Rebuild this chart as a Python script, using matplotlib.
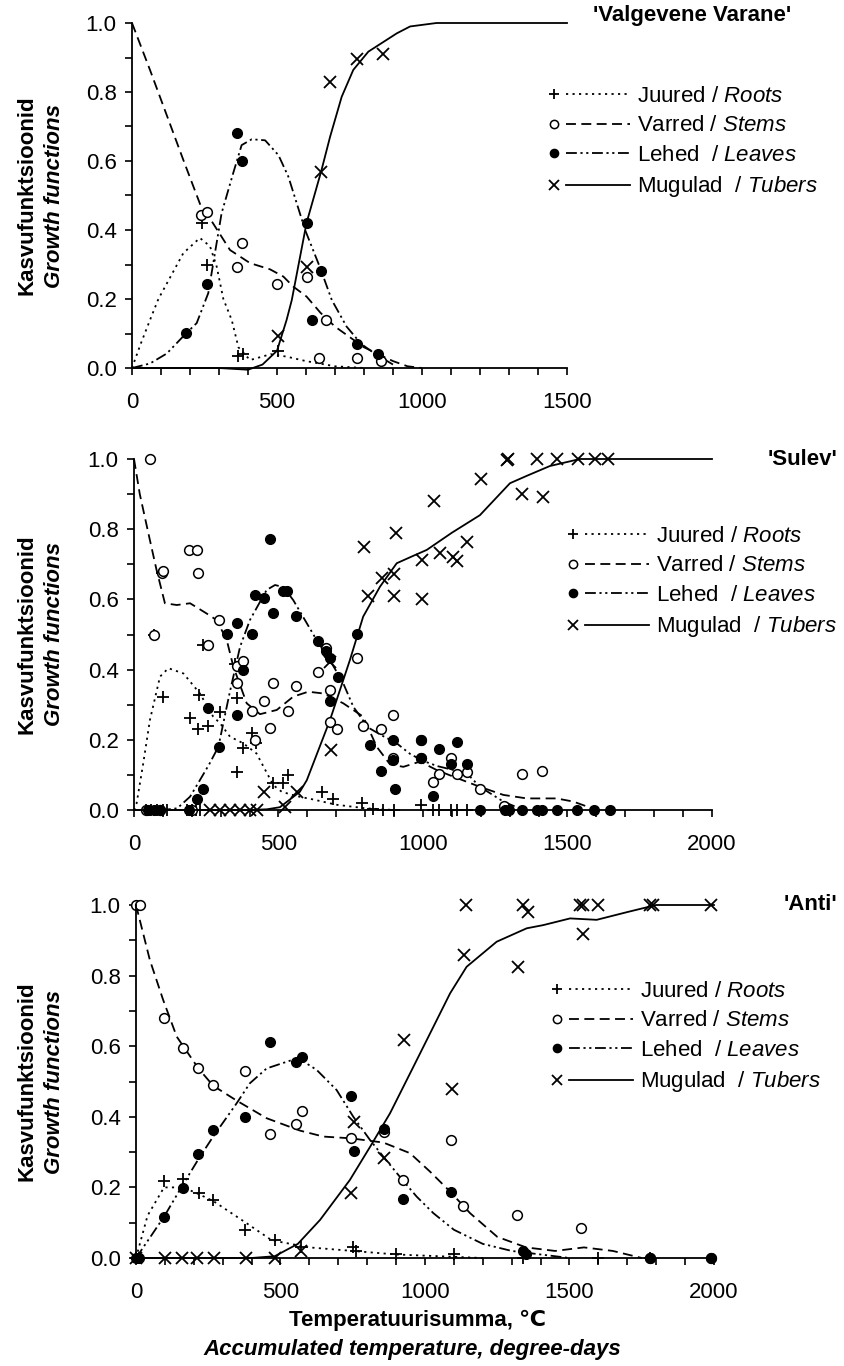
import matplotlib
matplotlib.use("Agg")
import matplotlib.pyplot as plt
from matplotlib.lines import Line2D
from matplotlib.legend_handler import HandlerBase
from matplotlib.ticker import MultipleLocator, FormatStrFormatter

plt.rcParams['font.family'] = ['Liberation Sans', 'DejaVu Sans']
plt.rcParams['mathtext.fontset'] = 'custom'
plt.rcParams['mathtext.rm'] = 'Liberation Sans'
plt.rcParams['mathtext.it'] = 'Liberation Sans:italic'
plt.rcParams['mathtext.bf'] = 'Liberation Sans:bold'

# ---------------- Panel 1: 'Valgevene Varane' ----------------
vv_roots_x = [240, 260, 367, 382, 502]
vv_roots_y = [0.42, 0.30, 0.035, 0.04, 0.05]
vv_stems_x = [237, 257, 361, 380, 499, 602, 645, 670, 777, 860]
vv_stems_y = [0.443, 0.453, 0.294, 0.361, 0.243, 0.263, 0.03, 0.14, 0.03, 0.02]
vv_leaves_x = [186, 260, 361, 380, 602, 620, 651, 777, 850]
vv_leaves_y = [0.102, 0.243, 0.68, 0.60, 0.421, 0.14, 0.282, 0.07, 0.04]
vv_tubers_x = [502, 605, 652, 683, 777, 867]
vv_tubers_y = [0.093, 0.294, 0.569, 0.83, 0.895, 0.91]

vv_roots_fx = [0, 30, 62, 91, 177, 234, 269, 292, 315, 344, 367, 407, 478, 533, 600, 700, 800]
vv_roots_fy = [0, 0.07, 0.139, 0.2, 0.333, 0.377, 0.353, 0.294, 0.2, 0.139, 0.06, 0.023, 0.04, 0.033, 0.02, 0.005, 0]
vv_stems_fx = [0, 62, 177, 237, 257, 338, 407, 476, 522, 556, 602, 650, 700, 750, 800, 850, 900, 950, 1000]
vv_stems_fy = [1.0, 0.864, 0.603, 0.47, 0.449, 0.342, 0.304, 0.286, 0.265, 0.236, 0.207, 0.16, 0.12, 0.09, 0.06, 0.04, 0.02, 0.005, 0]
vv_leaves_fx = [0, 62, 120, 186, 223, 263, 309, 349, 378, 413, 459, 505, 539, 597, 648, 689, 740, 790, 840, 900]
vv_leaves_fy = [0, 0.013, 0.042, 0.1, 0.13, 0.217, 0.449, 0.565, 0.646, 0.663, 0.66, 0.617, 0.555, 0.40, 0.292, 0.197, 0.12, 0.07, 0.04, 0.01]
vv_tubers_fx = [0, 100, 200, 300, 400, 450, 500, 533, 551, 602, 652, 683, 723, 763, 815, 913, 959, 1050, 1500]
vv_tubers_fy = [0, 0, 0, 0, -0.005, 0.01, 0.05, 0.139, 0.197, 0.421, 0.569, 0.67, 0.786, 0.864, 0.917, 0.97, 0.99, 1.0, 1.0]

# ---------------- Panel 2: 'Sulev' ----------------
su_roots_x = [40, 60, 80, 100, 114, 183, 200, 215, 228, 69, 98, 101, 194, 220, 226, 240, 257, 298, 349, 357,
              357, 376, 409, 422, 482, 517, 534, 650, 690, 790, 828, 863, 900, 993, 1036, 1055, 1097, 1117, 1151]
su_roots_y = [0, 0, 0, 0, 0, 0, 0, 0, 0, 0.50, 0.674, 0.323, 0.263, 0.232, 0.328, 0.47, 0.238, 0.28, 0.415, 0.32,
              0.109, 0.177, 0.218, 0.192, 0.078, 0.078, 0.101, 0.05, 0.03, 0.02, 0.003, 0, 0, 0.015, 0, 0, 0, 0, 0]
su_stems_x = [55, 69, 98, 101, 191, 217, 223, 255, 294, 357, 376, 357, 480, 561, 450, 409, 532, 471, 418, 664,
              636, 678, 773, 678, 704, 794, 855, 897, 993, 897, 993, 1097, 1055, 1119, 1151, 1036, 1197, 1281,
              1341, 1413, 40, 90, 200]
su_stems_y = [1.0, 0.50, 0.674, 0.68, 0.741, 0.741, 0.674, 0.47, 0.541, 0.41, 0.425, 0.361, 0.361, 0.353, 0.311,
              0.283, 0.282, 0.233, 0.2, 0.462, 0.392, 0.342, 0.432, 0.252, 0.232, 0.239, 0.231, 0.271, 0.20,
              0.149, 0.149, 0.149, 0.103, 0.103, 0.109, 0.079, 0.06, 0.012, 0.103, 0.11, 0, 0, 0]
su_leaves_x = [471, 419, 451, 517, 531, 480, 561, 355, 323, 407, 636, 664, 678, 705, 773, 376, 678, 257, 355, 294,
               817, 855, 897, 897, 903, 993, 993, 1055, 1117, 1097, 1151, 1036, 238, 217, 50, 70, 90, 190,
               1197, 1284, 1299, 1341, 1393, 1411, 1465, 1534, 1593, 1647]
su_leaves_y = [0.772, 0.613, 0.603, 0.624, 0.624, 0.560, 0.553, 0.534, 0.501, 0.501, 0.482, 0.453, 0.432, 0.38,
               0.501, 0.40, 0.311, 0.292, 0.271, 0.18, 0.185, 0.111, 0.199, 0.143, 0.06, 0.20, 0.149, 0.173, 0.193,
               0.131, 0.131, 0.04, 0.06, 0.031, 0, 0, 0, 0, 0, 0, 0, 0, 0, 0, 0, 0, 0, 0]
su_tubers_x = [1290, 1295, 1393, 1465, 1537, 1595, 1640, 1200, 1038, 1341, 1414, 905, 796, 1153, 995, 1059, 1103,
               1119, 857, 901, 811, 901, 995, 678, 682, 263, 298, 332, 367, 401, 426, 451, 522, 563]
su_tubers_y = [0.997, 1.0, 1.0, 1.0, 1.0, 1.0, 1.0, 0.942, 0.880, 0.900, 0.891, 0.790, 0.750, 0.763, 0.712, 0.731,
               0.72, 0.71, 0.660, 0.672, 0.610, 0.610, 0.601, 0.421, 0.171, 0, 0, 0, 0, 0, 0, 0.052, 0.008, 0.052]

su_roots_fx = [0, 9, 32, 55, 90, 119, 171, 228, 274, 298, 332, 378, 424, 482, 511, 560, 620, 700, 800, 900]
su_roots_fy = [0, 0.019, 0.133, 0.256, 0.38, 0.404, 0.389, 0.332, 0.266, 0.247, 0.209, 0.19, 0.161, 0.071, 0.052,
               0.04, 0.03, 0.015, 0.005, 0]
su_stems_fx = [0, 20, 55, 78, 107, 148, 194, 251, 286, 321, 344, 390, 436, 494, 551, 603, 655, 724, 793, 840, 886,
               932, 990, 1047, 1105, 1197, 1278, 1359, 1462, 1520, 1601]
su_stems_fy = [1.0, 0.9, 0.769, 0.684, 0.589, 0.584, 0.589, 0.56, 0.541, 0.484, 0.408, 0.304, 0.273, 0.285, 0.323,
               0.337, 0.332, 0.304, 0.266, 0.18, 0.13, 0.123, 0.138, 0.114, 0.095, 0.066, 0.043, 0.033, 0.033,
               0.024, 0.0]
su_leaves_fx = [0, 100, 150, 194, 228, 260, 292, 330, 367, 401, 459, 488, 517, 551, 598, 632, 678, 724, 759, 810,
                863, 909, 955, 1000, 1050, 1100, 1151, 1197, 1278, 1347]
su_leaves_fy = [0, 0, 0.005, 0.038, 0.085, 0.13, 0.18, 0.33, 0.465, 0.541, 0.627, 0.641, 0.635, 0.598, 0.532, 0.484,
                0.427, 0.361, 0.294, 0.235, 0.21, 0.19, 0.16, 0.14, 0.125, 0.115, 0.105, 0.066, 0.024, 0]
su_tubers_fx = [0, 200, 400, 460, 505, 574, 598, 678, 747, 793, 851, 909, 966, 1013, 1100, 1197, 1301, 1359, 1439,
                1543, 2000]
su_tubers_fy = [0, 0, 0, 0.002, 0.008, 0.052, 0.085, 0.256, 0.427, 0.551, 0.636, 0.703, 0.724, 0.741, 0.79, 0.840,
                0.931, 0.952, 0.98, 1.0, 1.0]

# ---------------- Panel 3: 'Anti' ----------------
an_roots_x = [0, 10, 97, 164, 219, 267, 377, 480, 570, 750, 760, 900, 1100, 1340, 1600, 1780]
an_roots_y = [0, 0, 0.219, 0.224, 0.185, 0.164, 0.08, 0.05, 0.03, 0.03, 0.02, 0.01, 0.01, 0.0, 0.0, 0.0]
an_stems_x = [0, 15, 97, 164, 216, 267, 377, 464, 554, 573, 744, 859, 925, 1090, 1133, 1317, 1540, 1780, 1990]
an_stems_y = [1.0, 1.0, 0.679, 0.596, 0.537, 0.49, 0.530, 0.351, 0.381, 0.417, 0.339, 0.358, 0.221, 0.334, 0.148,
              0.122, 0.085, 0.0, 0.0]
an_leaves_x = [0, 10, 97, 164, 216, 267, 377, 464, 554, 573, 744, 754, 859, 925, 1090, 1340, 1350, 1780, 1990]
an_leaves_y = [0, 0, 0.117, 0.197, 0.295, 0.363, 0.40, 0.611, 0.556, 0.568, 0.459, 0.304, 0.365, 0.167, 0.186,
               0.02, 0.01, 0.0, 0.0]
an_tubers_x = [0, 100, 160, 210, 270, 380, 480, 570, 744, 754, 859, 927, 1092, 1135, 1141, 1321, 1340, 1355, 1536,
               1548, 1548, 1600, 1780, 1790, 1990]
an_tubers_y = [0, 0, 0, 0, 0, 0, 0, 0.02, 0.185, 0.386, 0.284, 0.618, 0.478, 0.858, 1.0, 0.823, 1.0, 0.979, 1.0,
               1.0, 0.918, 1.0, 1.0, 1.0, 1.0]

an_roots_fx = [0, 40, 97, 164, 220, 270, 380, 470, 600, 750, 900, 1200]
an_roots_fy = [0, 0.12, 0.2, 0.2, 0.18, 0.16, 0.1, 0.05, 0.03, 0.02, 0.01, 0]
an_stems_fx = [0, 48, 94, 141, 216, 267, 348, 452, 567, 648, 744, 856, 948, 1017, 1087, 1156, 1250, 1350, 1450,
               1550, 1650, 1750]
an_stems_fy = [1.0, 0.844, 0.731, 0.627, 0.537, 0.488, 0.446, 0.396, 0.361, 0.344, 0.339, 0.327, 0.297, 0.245,
               0.188, 0.127, 0.06, 0.03, 0.02, 0.03, 0.02, 0.0]
an_leaves_fx = [0, 50, 97, 164, 216, 267, 348, 394, 452, 533, 573, 625, 694, 752, 810, 856, 913, 971, 1029, 1100,
                1200, 1300, 1400, 1500]
an_leaves_fy = [0, 0.06, 0.117, 0.21, 0.28, 0.344, 0.438, 0.495, 0.537, 0.559, 0.56, 0.533, 0.476, 0.40, 0.334,
                0.287, 0.23, 0.174, 0.127, 0.08, 0.04, 0.02, 0.01, 0]
an_tubers_fx = [0, 200, 400, 480, 560, 637, 740, 810, 879, 960, 1029, 1087, 1144, 1248, 1352, 1409, 1502, 1594,
                1700, 1800, 2000]
an_tubers_fy = [0, 0, 0, 0.005, 0.04, 0.108, 0.221, 0.315, 0.41, 0.542, 0.655, 0.75, 0.825, 0.896, 0.934, 0.943,
                0.962, 0.958, 0.98, 1.0, 1.0]

titles = ["'Valgevene Varane'", "'Sulev'", "'Anti'"]
xmaxes = [1500, 2000, 2000]

FS = 16
W, H = 845, 1366
fig = plt.figure(figsize=(W / 100, H / 100), dpi=100)

# axes boxes in pixels: left, top, right, bottom
boxes = [(132, 23, 567, 368), (134, 459, 712, 810), (136, 905, 714, 1258)]
legend_anchor = [(548, 86), (567, 526), (551, 981)]
title_pos = [(593, 15, 'left'), (837, 460, 'right'), (837, 905, 'right')]

ROOT_LS = (0, (1.2, 2.4))
STEM_LS = (0, (5.5, 3.0))
LEAF_LS = (0, (6.0, 2.0, 1.2, 2.0, 1.2, 2.0))


class MarkerThenLine(HandlerBase):
    def create_artists(self, legend, orig_handle, xdescent, ydescent, width, height, fontsize, trans):
        y = height / 2 - ydescent
        x0 = -xdescent
        m = Line2D([x0 + 4], [y], marker=orig_handle.get_marker(), linestyle='none',
                   markersize=orig_handle.get_markersize() * 0.85,
                   markerfacecolor=orig_handle.get_markerfacecolor(),
                   markeredgecolor='black', markeredgewidth=orig_handle.get_markeredgewidth())
        ln = Line2D([x0 + width * 0.22, x0 + width], [y, y], color='black',
                    linestyle=orig_handle.ls_spec, linewidth=1.3)
        m.set_transform(trans)
        ln.set_transform(trans)
        return [m, ln]


def make_handle(marker, ms, mfc, mew, ls):
    h = Line2D([], [], marker=marker, ms=ms, mfc=mfc, mec='black', mew=mew, color='black')
    h.ls_spec = ls
    return h


def draw_panel(i, data):
    l, t, r, b = boxes[i]
    ax = fig.add_axes([l / W, 1 - b / H, (r - l) / W, (b - t) / H])
    (rx, ry, sx, sy, lx, ly, tx, ty,
     rfx, rfy, sfx, sfy, lfx, lfy, tfx, tfy) = data
    lw = 1.3
    ax.plot(rfx, rfy, color='black', lw=lw, linestyle=ROOT_LS, clip_on=False)
    ax.plot(sfx, sfy, color='black', lw=lw, linestyle=STEM_LS, clip_on=False)
    ax.plot(lfx, lfy, color='black', lw=lw, linestyle=LEAF_LS, clip_on=False)
    ax.plot(tfx, tfy, color='black', lw=lw, linestyle='-', clip_on=False)
    ax.plot(rx, ry, '+', color='black', ms=9, mew=1.3, linestyle='none', clip_on=False)
    ax.plot(sx, sy, 'o', mfc='white', mec='black', ms=7, mew=1.1, linestyle='none', clip_on=False)
    ax.plot(lx, ly, 'o', mfc='black', mec='black', ms=7, mew=1.0, linestyle='none', clip_on=False)
    ax.plot(tx, ty, 'x', color='black', ms=8, mew=1.3, linestyle='none', clip_on=False)

    ax.set_xlim(0, xmaxes[i])
    ax.set_ylim(0, 1.0)
    for s in ['top', 'right']:
        ax.spines[s].set_visible(False)
    for s in ['left', 'bottom']:
        ax.spines[s].set_linewidth(1.3)
    ax.xaxis.set_major_locator(MultipleLocator(500))
    ax.xaxis.set_minor_locator(MultipleLocator(100))
    ax.yaxis.set_major_locator(MultipleLocator(0.2))
    ax.yaxis.set_minor_locator(MultipleLocator(0.1))
    ax.yaxis.set_major_formatter(FormatStrFormatter('%.1f'))
    ax.tick_params(which='both', direction='out', length=5, width=1.2, labelsize=FS)
    ax.tick_params(axis='x', pad=12)
    ax.tick_params(axis='y', pad=6)

    handles = [
        make_handle('+', 9, 'black', 1.3, ROOT_LS),
        make_handle('o', 7, 'white', 1.1, STEM_LS),
        make_handle('o', 7, 'black', 1.0, LEAF_LS),
        make_handle('x', 8, 'black', 1.3, '-'),
    ]
    labels = [r"Juured / $\mathit{Roots}$", r"Varred / $\mathit{Stems}$",
              r"Lehed  / $\mathit{Leaves}$", r"Mugulad  / $\mathit{Tubers}$"]
    axl, axt = legend_anchor[i]
    ax.legend(handles, labels, loc='upper left',
              bbox_to_anchor=((axl - l) / (r - l), (b - axt) / (b - t)),
              frameon=False, fontsize=FS, handlelength=3.7, handletextpad=0.3,
              labelspacing=0.38, borderpad=0, borderaxespad=0,
              handler_map={Line2D: MarkerThenLine()})

    tx_, ty_, ha = title_pos[i]
    fig.text(tx_ / W, 1 - ty_ / H, titles[i], fontsize=FS, fontweight='bold', ha=ha, va='center')

    yc = 1 - (t + b) / 2 / H
    fig.text(27 / W, yc, 'Kasvufunktsioonid', rotation=90, fontsize=FS, fontweight='bold',
             ha='center', va='center')
    fig.text(55 / W, yc, 'Growth functions', rotation=90, fontsize=FS, fontweight='bold',
             style='italic', ha='center', va='center')
    return ax


draw_panel(0, (vv_roots_x, vv_roots_y, vv_stems_x, vv_stems_y, vv_leaves_x, vv_leaves_y, vv_tubers_x, vv_tubers_y,
               vv_roots_fx, vv_roots_fy, vv_stems_fx, vv_stems_fy, vv_leaves_fx, vv_leaves_fy, vv_tubers_fx,
               vv_tubers_fy))
draw_panel(1, (su_roots_x, su_roots_y, su_stems_x, su_stems_y, su_leaves_x, su_leaves_y, su_tubers_x, su_tubers_y,
               su_roots_fx, su_roots_fy, su_stems_fx, su_stems_fy, su_leaves_fx, su_leaves_fy, su_tubers_fx,
               su_tubers_fy))
draw_panel(2, (an_roots_x, an_roots_y, an_stems_x, an_stems_y, an_leaves_x, an_leaves_y, an_tubers_x, an_tubers_y,
               an_roots_fx, an_roots_fy, an_stems_fx, an_stems_fy, an_leaves_fx, an_leaves_fy, an_tubers_fx,
               an_tubers_fy))

fig.text(418 / W, 1 - 1320 / H, 'Temperatuurisumma, ℃', fontsize=FS, fontweight='bold', ha='center', va='center')
fig.text(412 / W, 1 - 1350 / H, 'Accumulated temperature, degree-days', fontsize=FS, fontweight='bold',
         style='italic', ha='center', va='center')

fig.savefig('out.png', dpi=100)
